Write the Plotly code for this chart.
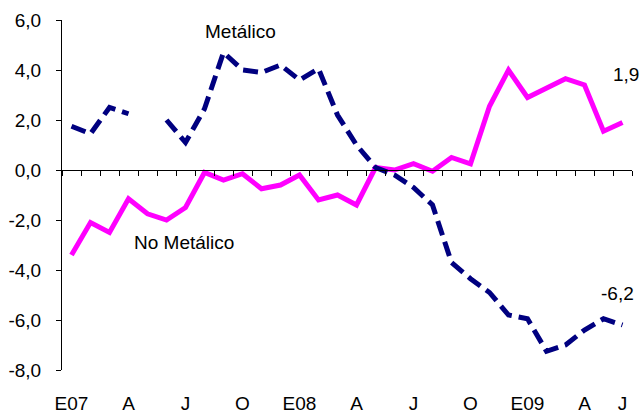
import plotly.graph_objects as go

months = list(range(1, 31))
tick_positions = [1, 4, 7, 10, 13, 16, 19, 22, 25, 28, 30]
tick_labels = ["E07", "A", "J", "O", "E08", "A", "J", "O", "E09", "A", "J"]

metalico = [1.75, 1.45, 2.5, 2.25, None, 2.0, 1.1, 2.45, 4.7, 4.0,
            3.9, 4.2, 3.6, 4.05, 2.2, 1.0, 0.1, -0.2, -0.7, -1.4,
            -3.7, -4.35, -4.9, -5.8, -5.95, -7.25, -7.0, -6.4, -5.95, -6.2]
no_metalico = [-3.4, -2.1, -2.5, -1.15, -1.75, -2.0, -1.5, -0.1, -0.4, -0.15,
               -0.75, -0.6, -0.2, -1.2, -1.0, -1.4, 0.1, 0.0, 0.25, -0.05,
               0.5, 0.25, 2.55, 4.0, 2.9, 3.25, 3.65, 3.4, 1.55, 1.9]
y_ticks = [-8, -6, -4, -2, 0, 2, 4, 6]

FONT = "Liberation Sans, Arial, sans-serif"
FS = 19
NAVY = "#000080"
PINK = "#FF00FF"


def fmt(v):
    return f"{v:.1f}".replace(".", ",")


fig = go.Figure()
fig.add_trace(go.Scatter(x=months, y=metalico, mode="lines", xaxis="x2",
                         line=dict(color=NAVY, width=5, dash="15px,7px"),
                         connectgaps=False, name="Metálico", showlegend=False))
fig.add_trace(go.Scatter(x=months, y=no_metalico, mode="lines",
                         line=dict(color=PINK, width=5),
                         name="No Metálico", showlegend=False))

annots = [
    dict(x=9.9, y=5.54, text="Metálico", showarrow=False, xref="x", yref="y"),
    dict(x=6.9, y=-2.9, text="No Metálico", showarrow=False, xref="x", yref="y"),
    dict(x=months[-1], y=no_metalico[-1], text=fmt(no_metalico[-1]), showarrow=False,
         xref="x", yref="y", xshift=3, yshift=48),
    dict(x=months[-1], y=metalico[-1], text=fmt(metalico[-1]), showarrow=False,
         xref="x", yref="y", xshift=-5, yshift=32),
]
for a in annots:
    a["font"] = dict(family=FONT, size=FS, color="#000000")

ymin, ymax = -8, 6
fig.update_layout(
    width=642, height=414,
    margin=dict(l=62, r=10, t=20, b=44, autoexpand=False),
    paper_bgcolor="white", plot_bgcolor="white",
    font=dict(family=FONT, size=FS, color="#000000"),
    annotations=annots,
    xaxis=dict(range=[0.5, 30.5], tickmode="array", tickvals=tick_positions,
               ticktext=tick_labels, showline=False, ticks="", showgrid=False,
               zeroline=False, ticklabelstandoff=20, automargin=False,
               tickfont=dict(family=FONT, size=FS, color="#000000")),
    xaxis2=dict(range=[0.5, 30.5], overlaying="x", anchor="free",
                position=(0 - ymin) / (ymax - ymin), side="bottom",
                tickmode="array", tickvals=[m - 0.5 for m in months] + [months[-1] + 0.5],
                ticks="outside", ticklen=5, tickwidth=1, tickcolor="#000000",
                showticklabels=False, showline=True, linecolor="#000000",
                linewidth=1, showgrid=False, zeroline=False, automargin=False),
    yaxis=dict(range=[ymin, ymax], tickmode="array", tickvals=y_ticks,
               ticktext=[fmt(v) for v in y_ticks], showline=True,
               linecolor="#000000", linewidth=1, ticks="outside", ticklen=5,
               tickwidth=1, tickcolor="#000000", showgrid=False, zeroline=False,
               ticklabelstandoff=11, automargin=False,
               tickfont=dict(family=FONT, size=FS, color="#000000")),
)

fig.write_html("out.html", config={"displayModeBar": False},
               post_script="document.body.style.margin='0';document.body.style.padding='0';")
